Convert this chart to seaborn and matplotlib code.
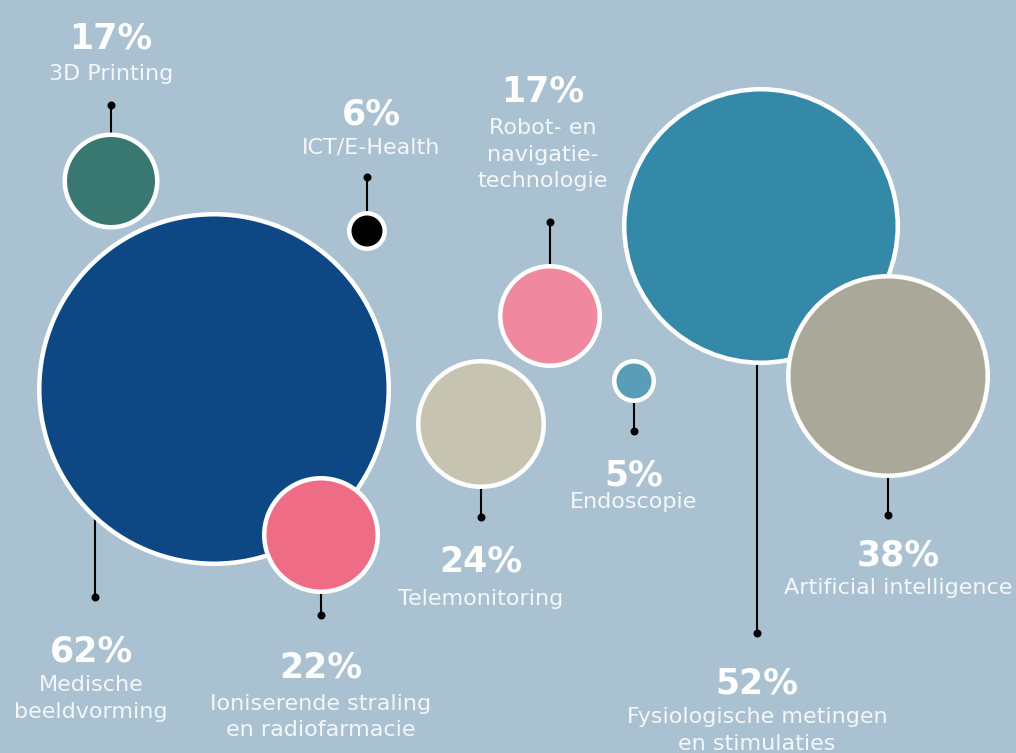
import matplotlib
matplotlib.use("Agg")
import matplotlib.pyplot as plt
import seaborn as sns
import pandas as pd

# data
labels = ["3D Printing", "ICT/E-Health", "Robot- en\nnavigatie-\ntechnologie",
          "Medische\nbeeldvorming", "Ioniserende straling\nen radiofarmacie",
          "Telemonitoring", "Endoscopie", "Fysiologische metingen\nen stimulaties",
          "Artificial intelligence"]
percent = [17, 6, 17, 62, 22, 24, 5, 52, 38]
colors = ["#387870", "#000000", "#f088a0", "#0d4784", "#ee6c85",
          "#c6c4b1", "#5a9db6", "#3489a8", "#aaa999"]

# layout (pixels, y downwards)
bubble_x = [111, 367, 550, 214, 321, 481, 634, 761, 888]
bubble_y = [181, 231, 316, 389, 535, 424, 381, 226, 376]
bubble_r = [48.5, 20, 52, 177, 59, 65, 22, 139, 102]
stem_x = [111, 367, 550, 95, 321, 481, 634, 757, 888]
dot_y = [105, 177, 222, 597, 615, 517, 431, 633, 515]
text_x = [111, 371, 543, 91, 321, 481, 634, 757, 898]
pct_base = [48, 124, 101, 662, 678, 571, 485, 694, 565]
label_base = [80, 153, 134, 691, 710, 605, 508, 723, 594]
line_step = 26.5

bg = "#a9c1d0"
border_px = 4.5
px2pt = 0.72

df = pd.DataFrame({"label": labels, "pct": percent, "x": bubble_x, "y": bubble_y, "r": bubble_r})
sizes = {lab: (2 * (r - border_px / 2) * px2pt) ** 2 for lab, r in zip(labels, bubble_r)}
palette = dict(zip(labels, colors))

fig = plt.figure(figsize=(10.16, 7.53), dpi=100)
fig.patch.set_facecolor(bg)
ax = fig.add_axes([0, 0, 1, 1])
ax.set_facecolor(bg)

# stems behind the bubbles
ax.vlines(stem_x, bubble_y, dot_y, color="black", lw=1.5, zorder=1)

sns.scatterplot(data=df, x="x", y="y", hue="label", palette=palette,
                size="label", sizes=sizes, edgecolor="white",
                linewidth=border_px * px2pt, legend=False, ax=ax, zorder=2)
sns.scatterplot(x=stem_x, y=dot_y, color="black", s=(8 * px2pt) ** 2,
                linewidth=0, legend=False, ax=ax, zorder=3)

for i in range(len(labels)):
    ax.text(text_x[i], pct_base[i], f"{percent[i]}%", ha="center", va="baseline",
            fontsize=25, fontweight="bold", color="white", family="DejaVu Sans")
    for j, line in enumerate(labels[i].split("\n")):
        ax.text(text_x[i], label_base[i] + j * line_step, line, ha="center",
                va="baseline", fontsize=16, color="#f4f7f9", family="DejaVu Sans")

ax.set_xlim(0, 1016)
ax.set_ylim(753, 0)
ax.axis("off")
plt.savefig("out.png", dpi=100, facecolor=bg)
